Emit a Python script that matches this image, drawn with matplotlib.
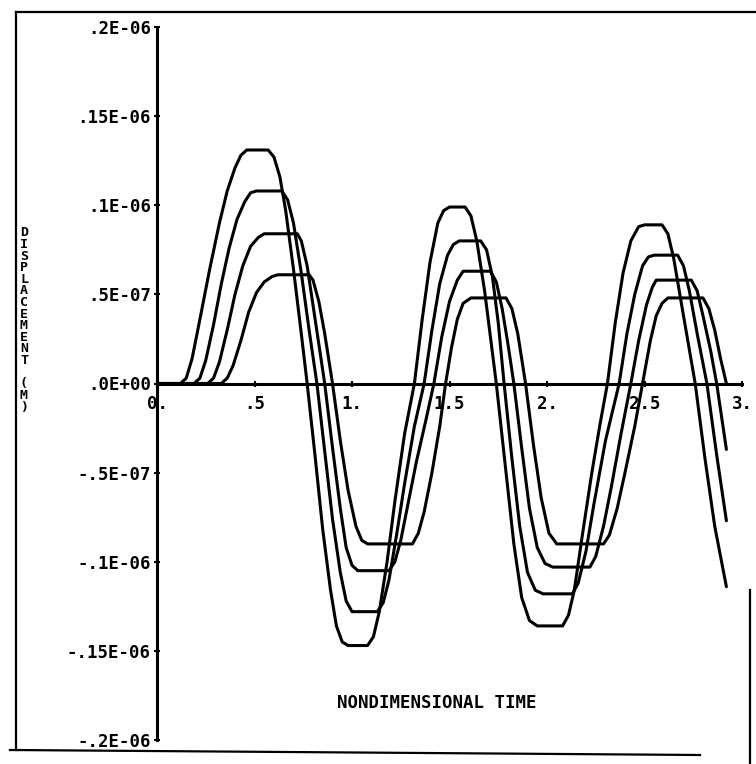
import matplotlib
matplotlib.use('Agg')
import matplotlib.pyplot as plt
from matplotlib.lines import Line2D

# displacement in units of 1e-7 m
t_a = [0.00, 0.12, 0.15, 0.18, 0.22, 0.27, 0.32, 0.36, 0.40, 0.43, 0.46, 0.57, 0.60, 0.63, 0.66, 0.70,
       0.74, 0.77, 0.81, 0.85, 0.89, 0.92, 0.95, 0.98, 1.08, 1.11, 1.14, 1.18, 1.22, 1.27, 1.32, 1.36,
       1.40, 1.44, 1.47, 1.50, 1.58, 1.61, 1.64, 1.68, 1.74, 1.78, 1.83, 1.87, 1.91, 1.95, 2.08, 2.11,
       2.14, 2.18, 2.23, 2.27, 2.31, 2.35, 2.39, 2.43, 2.47, 2.50, 2.59, 2.62, 2.65, 2.70, 2.76, 2.81,
       2.86, 2.92]
y_a = [0.00, 0.00, 0.03, 0.14, 0.36, 0.64, 0.90, 1.08, 1.21, 1.28, 1.31, 1.31, 1.27, 1.16, 0.97, 0.64,
       0.28, 0.00, -0.40, -0.82, -1.16, -1.36, -1.45, -1.47, -1.47, -1.42, -1.28, -1.00, -0.66, -0.28, 0.00, 0.36,
       0.68, 0.90, 0.97, 0.99, 0.99, 0.94, 0.80, 0.52, 0.00, -0.40, -0.90, -1.20, -1.33, -1.36, -1.36, -1.30,
       -1.16, -0.86, -0.50, -0.24, 0.00, 0.34, 0.62, 0.80, 0.88, 0.89, 0.89, 0.84, 0.70, 0.38, 0.00, -0.42,
       -0.80, -1.14]

t_b = [0.00, 0.19, 0.22, 0.25, 0.29, 0.33, 0.37, 0.41, 0.45, 0.48, 0.51, 0.64, 0.67, 0.70, 0.74, 0.78,
       0.82, 0.86, 0.90, 0.94, 0.97, 1.00, 1.13, 1.16, 1.19, 1.23, 1.27, 1.32, 1.37, 1.41, 1.45, 1.49,
       1.52, 1.55, 1.66, 1.69, 1.72, 1.75, 1.78, 1.82, 1.86, 1.90, 1.94, 1.98, 2.13, 2.16, 2.20, 2.24,
       2.30, 2.37, 2.41, 2.45, 2.49, 2.52, 2.55, 2.67, 2.70, 2.73, 2.77, 2.82, 2.87, 2.92]
y_b = [0.00, 0.00, 0.03, 0.13, 0.33, 0.56, 0.76, 0.92, 1.02, 1.07, 1.08, 1.08, 1.03, 0.90, 0.62, 0.30,
       0.00, -0.38, -0.76, -1.06, -1.22, -1.28, -1.28, -1.23, -1.10, -0.84, -0.56, -0.24, 0.00, 0.30, 0.56, 0.72,
       0.78, 0.80, 0.80, 0.75, 0.60, 0.34, 0.00, -0.42, -0.80, -1.06, -1.16, -1.18, -1.18, -1.12, -0.94, -0.68,
       -0.32, 0.00, 0.28, 0.50, 0.66, 0.71, 0.72, 0.72, 0.66, 0.52, 0.28, 0.00, -0.40, -0.77]

t_c = [0.00, 0.26, 0.29, 0.32, 0.36, 0.40, 0.44, 0.48, 0.52, 0.55, 0.72, 0.74, 0.77, 0.80, 0.83, 0.86,
       0.90, 0.94, 0.97, 1.00, 1.03, 1.19, 1.22, 1.25, 1.29, 1.33, 1.38, 1.42, 1.46, 1.50, 1.54, 1.57,
       1.71, 1.74, 1.77, 1.80, 1.83, 1.87, 1.91, 1.95, 1.99, 2.03, 2.22, 2.25, 2.29, 2.33, 2.38, 2.43,
       2.47, 2.51, 2.54, 2.56, 2.74, 2.77, 2.80, 2.84, 2.87, 2.92]
y_c = [0.00, 0.00, 0.03, 0.12, 0.30, 0.50, 0.66, 0.77, 0.82, 0.84, 0.84, 0.80, 0.66, 0.44, 0.22, 0.00,
       -0.36, -0.70, -0.92, -1.02, -1.05, -1.05, -1.00, -0.88, -0.66, -0.44, -0.20, 0.00, 0.26, 0.46, 0.58, 0.63,
       0.63, 0.57, 0.42, 0.22, 0.00, -0.36, -0.70, -0.92, -1.01, -1.03, -1.03, -0.97, -0.80, -0.58, -0.28, 0.00,
       0.24, 0.44, 0.54, 0.58, 0.58, 0.52, 0.38, 0.18, 0.00, -0.37]

t_d = [0.00, 0.33, 0.36, 0.39, 0.43, 0.47, 0.51, 0.55, 0.59, 0.62, 0.78, 0.80, 0.83, 0.86, 0.90, 0.94,
       0.98, 1.02, 1.05, 1.08, 1.31, 1.34, 1.37, 1.41, 1.45, 1.48, 1.51, 1.54, 1.57, 1.61, 1.79, 1.82,
       1.85, 1.89, 1.93, 1.97, 2.01, 2.05, 2.29, 2.32, 2.36, 2.40, 2.45, 2.49, 2.53, 2.56, 2.59, 2.62,
       2.80, 2.83, 2.86, 2.89, 2.92]
y_d = [0.00, 0.00, 0.03, 0.10, 0.24, 0.40, 0.51, 0.57, 0.60, 0.61, 0.61, 0.58, 0.46, 0.28, 0.00, -0.32,
       -0.60, -0.80, -0.88, -0.90, -0.90, -0.84, -0.72, -0.50, -0.24, 0.00, 0.20, 0.36, 0.45, 0.48, 0.48, 0.42,
       0.28, 0.00, -0.34, -0.64, -0.84, -0.90, -0.90, -0.85, -0.70, -0.50, -0.24, 0.00, 0.24, 0.38, 0.45, 0.48,
       0.48, 0.42, 0.30, 0.14, 0.00]

curves = [(t_a, y_a), (t_b, y_b), (t_c, y_c), (t_d, y_d)]

yticks = [2e-7, 1.5e-7, 1e-7, 0.5e-7, 0.0, -0.5e-7, -1e-7, -1.5e-7, -2e-7]
ytick_labels = ['.2E-06', '.15E-06', '.1E-06', '.5E-07', '.0E+00',
                '-.5E-07', '-.1E-06', '-.15E-06', '-.2E-06']
xticks = [0, 0.5, 1.0, 1.5, 2.0, 2.5, 3.0]
xtick_labels = ['0.', '.5', '1.', '1.5', '2.', '2.5', '3.']

mono = 'DejaVu Sans Mono'
W, H = 756, 764

fig = plt.figure(figsize=(W / 100, H / 100), dpi=100)
ax = fig.add_axes([157 / W, 24 / H, 585 / W, 713 / H])

for t, y in curves:
    ax.plot(t, [v * 1e-7 for v in y], color='black', lw=2.2,
            solid_joinstyle='round', solid_capstyle='round')

ax.set_xlim(0, 3)
ax.set_ylim(-2e-7, 2e-7)
ax.spines['top'].set_visible(False)
ax.spines['right'].set_visible(False)
ax.spines['bottom'].set_position(('data', 0))
ax.spines['left'].set_linewidth(2.2)
ax.spines['bottom'].set_linewidth(2.2)

ax.set_yticks(yticks)
ax.set_yticklabels(ytick_labels, fontfamily=mono, fontweight='bold', fontsize=12.5)
ax.set_xticks(xticks)
ax.set_xticklabels(xtick_labels, fontfamily=mono, fontweight='bold', fontsize=12.5)
ax.tick_params(axis='y', direction='inout', length=5, width=1.5, pad=2)
ax.tick_params(axis='x', direction='inout', length=4, width=1.5, pad=6)
ax.patch.set_visible(False)

fig.text(437 / W, 1 - 703 / H, 'NONDIMENSIONAL TIME', ha='center', va='center',
         fontfamily=mono, fontweight='bold', fontsize=12.5)

# stacked y label, one letter per line
fig.text(24 / W, 1 - 320 / H, '\n'.join('DISPLACEMENT (M)'), ha='center', va='center',
         multialignment='center', linespacing=0.86,
         fontfamily=mono, fontweight='bold', fontsize=9.5)

# outer frame of the plot sheet
frame = dict(color='black', lw=1.6, transform=fig.transFigure)
fig.add_artist(Line2D([16 / W, 16 / W], [1 - 12 / H, 1 - 750 / H], **frame))
fig.add_artist(Line2D([16 / W, 1.0], [1 - 12 / H, 1 - 12 / H], **frame))
fig.add_artist(Line2D([10 / W, 700 / W], [1 - 750 / H, 1 - 755 / H], **frame))
fig.add_artist(Line2D([750 / W, 750 / W], [1 - 590 / H, 0.0], **frame))

fig.savefig('out.png', dpi=100)
